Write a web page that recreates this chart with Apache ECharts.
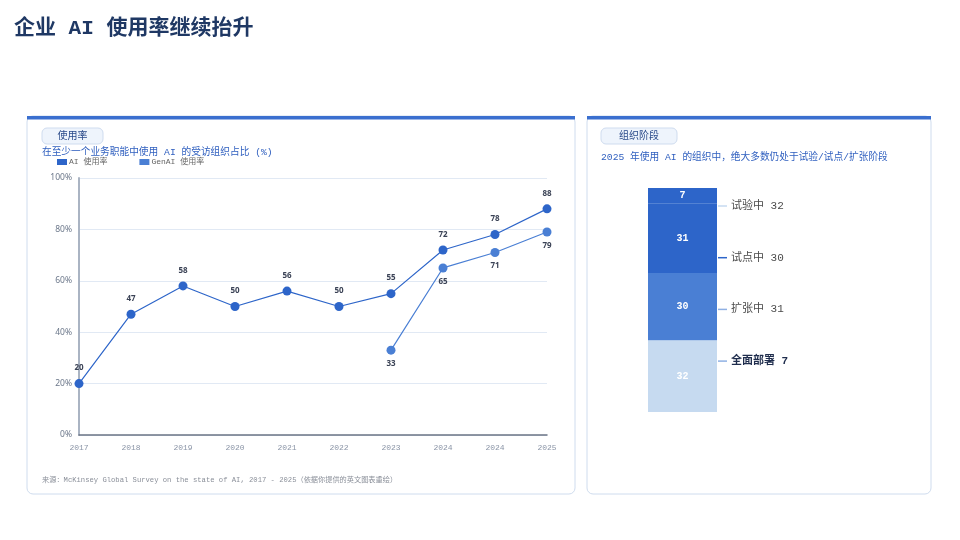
<!DOCTYPE html>
<html><head><meta charset="utf-8">
<script src="https://cdn.jsdelivr.net/npm/echarts@6/dist/echarts.min.js"></script>
<style>html,body{margin:0;padding:0;background:#fff}#c{width:960px;height:540px}</style>
</head><body><div id="c"></div>
<script>
// ---- data ----
const years = ['2017','2018','2019','2020','2021','2022','2023','2024','2024','2025'];
const aiUse = [20,47,58,50,56,50,55,72,78,88];
const genAiUse = [null,null,null,null,null,null,33,65,71,79];
const yTickValues = [0,20,40,60,80,100];
const stageNames = ['试验中','试点中','扩张中','全面部署'];
const stageValues = [32,30,31,7];
const stageCategory = ['2025'];

// ---- styles ----
const MONO = "'Liberation Mono','Noto Sans CJK SC',monospace";
const SANS = "'Noto Sans','Noto Sans CJK SC',sans-serif";
const C_AI = '#2d65c9', C_GEN = '#4a7fd4';
const stageColors = ['#c6daf0','#4a7fd4','#2d65c9','#2d65c9'];
const stageLineColors = ['#c6daf0','#2d65c9','#8fb0e3','#8fb0e3'];

const chart = echarts.init(document.getElementById('c'), null, {renderer:'canvas'});

function card(x, w) {
  return [
    {type:'rect', shape:{x:x, y:116, width:w, height:378, r:6}, style:{fill:'#fff', stroke:'#cfdcee', lineWidth:1}, z:-10},
    {type:'rect', shape:{x:x, y:116, width:w, height:3.5}, style:{fill:'#3a6fcf'}, z:-9}
  ];
}
function pill(x, w, text) {
  return [
    {type:'rect', shape:{x:x, y:128, width:w, height:16, r:5}, style:{fill:'#eef4fc', stroke:'#cfdcef', lineWidth:1}, z:-5},
    {type:'text', x:x + w/2, y:136, style:{text:text, font:"10px " + SANS, fill:'#2a4a8a', align:'center', verticalAlign:'middle'}, z:-4}
  ];
}

const option = {
  animation:false,
  backgroundColor:'#fff',
  textStyle:{fontFamily:SANS},
  legend:{
    left:52, top:153, itemWidth:10, itemHeight:6, icon:'rect', itemGap:32,
    textStyle:{fontSize:8, color:'#666', fontFamily:MONO, padding:[0,0,0,-3]},
    data:[{name:'AI 使用率', itemStyle:{color:C_AI}}, {name:'GenAI 使用率', itemStyle:{color:C_GEN}}]
  },
  grid:[
    {left:79, right:413, top:178, bottom:105, containLabel:false},
    {left:648, width:69, top:188, height:224, containLabel:false}
  ],
  xAxis:[
    {type:'category', gridIndex:0, data:years, boundaryGap:false,
     axisLine:{lineStyle:{color:'#6b7485', width:1.5}}, axisTick:{show:false},
     axisLabel:{color:'#8a94a6', fontSize:8, fontFamily:MONO, margin:9}},
    {type:'category', gridIndex:1, data:stageCategory, show:false}
  ],
  yAxis:[
    {type:'value', gridIndex:0, min:0, max:100, interval:20,
     axisLine:{show:true, lineStyle:{color:'#aab4c3', width:2}}, axisTick:{show:false},
     axisLabel:{color:'#6b778a', fontSize:8.5, margin:7, formatter:'{value}%'},
     splitLine:{lineStyle:{color:'#e1e9f4', width:1}}},
    {type:'value', gridIndex:1, min:0, max:100, show:false}
  ],
  series:[
    {name:'AI 使用率', type:'line', xAxisIndex:0, yAxisIndex:0, data:aiUse,
     symbol:'circle', symbolSize:9, lineStyle:{color:C_AI, width:1.2}, itemStyle:{color:C_AI},
     label:{show:true, position:'top', distance:7, fontSize:8, fontWeight:'bold', color:'#3a4255'}, z:3},
    {name:'GenAI 使用率', type:'line', xAxisIndex:0, yAxisIndex:0, data:genAiUse,
     symbol:'circle', symbolSize:9, lineStyle:{color:C_GEN, width:1.2}, itemStyle:{color:C_GEN},
     label:{show:true, position:'bottom', distance:5, fontSize:8, fontWeight:'bold', color:'#3a4255'}, z:4}
  ].concat(stageNames.map((n, i) => ({
     name:n, type:'bar', stack:'stage', xAxisIndex:1, yAxisIndex:1, barWidth:'100%',
     data:[stageValues[i]], itemStyle:{color:stageColors[i], borderColor:stageColors[i], borderWidth:1.2},
     label:{show:true, position:'inside', color:'#fff', fontSize:10, fontWeight:'bold', fontFamily:MONO}
  }))),
  graphic:[]
};
chart.setOption(option);

// annotations
const g = [].concat(card(27,548), card(587,344), pill(42,61,'使用率'), pill(601,76,'组织阶段'));
g.push({type:'text', x:14, y:29, style:{text:'企业 AI 使用率继续抬升', font:"bold 21px " + MONO, fill:'#1f3864', verticalAlign:'middle'}});
g.push({type:'text', x:42, y:152, style:{text:'在至少一个业务职能中使用 AI 的受访组织占比 (%)', font:"9.7px " + MONO, fill:'#2f5fbf', verticalAlign:'middle'}});
g.push({type:'text', x:601, y:157, style:{text:'2025 年使用 AI 的组织中，绝大多数仍处于试验/试点/扩张阶段', font:"9.7px " + MONO, fill:'#2f5fbf', verticalAlign:'middle'}});
g.push({type:'text', x:42, y:480, style:{text:'来源：McKinsey Global Survey on the state of AI, 2017 - 2025（依据你提供的英文图表重绘）', font:"7.2px " + MONO, fill:'#8a8f99', verticalAlign:'middle'}});

// stage callouts: evenly spaced beside the bar
const topPx = chart.convertToPixel({gridIndex:1}, ['2025', 100])[1];
const xr = 718;
stageNames.forEach((n, i) => {
  const y = topPx + 18 + i * 51.7;
  g.push({type:'line', shape:{x1:xr, y1:y, x2:xr+9, y2:y}, style:{stroke:stageLineColors[i], lineWidth:1.5}});
  const last = i === stageNames.length - 1;
  g.push({type:'text', x:xr+13, y:y, style:{text:n + ' ' + stageValues[i], font:(last?'bold ':'') + "11px " + MONO, fill: last ? '#1f2d4d' : '#4a4a4a', verticalAlign:'middle'}});
});
chart.setOption({graphic:g});
</script></body></html>
